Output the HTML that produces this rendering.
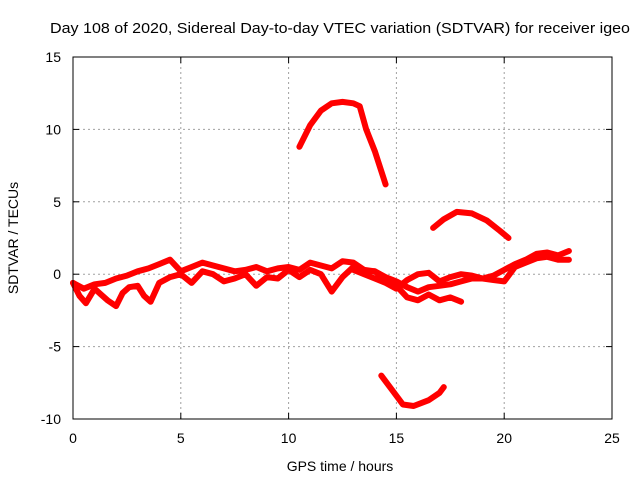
<!DOCTYPE html>
<html><head><meta charset="utf-8"><style>
html,body{margin:0;padding:0;background:#fff;}
svg{display:block;font-family:"Liberation Sans",sans-serif;}
</style></head><body>
<svg id="chart" width="640" height="480">
<text x="340" y="33" font-size="15" text-anchor="middle" textLength="580" lengthAdjust="spacingAndGlyphs">Day 108 of 2020, Sidereal Day-to-day VTEC variation (SDTVAR) for receiver igeo</text>
<g id="grid"></g>
<g id="series"></g>
<rect x="73" y="57" width="539" height="362" fill="none" stroke="#000" stroke-width="1"/>
<g id="ticks"></g>
<text x="340" y="471" font-size="14" text-anchor="middle">GPS time / hours</text>
<text x="0" y="0" font-size="14" text-anchor="middle" transform="translate(18,238) rotate(-90)">SDTVAR / TECUs</text>
</svg>
<script>
const xTicks=[0,5,10,15,20,25];
const yTicks=[15,10,5,0,-5,-10];
const seriesLowX=[0,0.3,0.6,1,1.3,1.6,2,2.3,2.6,3,3.3,3.6,4,4.5,5,5.5,6,6.5,7,7.5,8,8.5,9,9.5,10,10.5,11,11.5,12,12.5,13,13.5,14,14.5,15,15.5,16,16.5,17,17.5,18];
const seriesLowY=[-0.6,-1.5,-2.0,-1.0,-1.4,-1.8,-2.2,-1.3,-0.9,-0.8,-1.5,-1.9,-0.6,-0.2,0,-0.6,0.2,0,-0.5,-0.3,0,-0.8,-0.2,-0.3,0.3,-0.2,0.3,0,-1.2,-0.2,0.5,0.2,0.2,-0.4,-0.8,-1.6,-1.8,-1.4,-1.8,-1.6,-1.9];
const seriesMidX=[0,0.5,1,1.5,2,2.5,3,3.5,4,4.5,5,5.5,6,6.5,7,7.5,8,8.5,9,9.5,10,10.5,11,11.5,12,12.5,13,13.5,14,14.5,15,15.5,16,16.5,17,17.5,18,18.5,19,19.5,20,20.5,21,21.5,22,22.5,23];
const seriesMidY=[-0.6,-1.0,-0.7,-0.6,-0.3,-0.1,0.2,0.4,0.7,1,0.2,0.5,0.8,0.6,0.4,0.2,0.3,0.5,0.2,0.4,0.5,0.3,0.8,0.6,0.4,0.9,0.8,0.3,0.2,-0.2,-0.5,-0.9,-1.2,-0.9,-0.8,-0.7,-0.5,-0.3,-0.3,-0.1,0.3,0.7,1,1.4,1.5,1.3,1.6];
const seriesLateX=[13,13.5,14,14.5,15,15.5,16,16.5,17,17.5,18,18.5,19,19.5,20,20.5,21,21.5,22,22.5,23];
const seriesLateY=[0.3,0,-0.3,-0.6,-1,-0.4,0,0.1,-0.5,-0.2,0,-0.1,-0.3,-0.4,-0.5,0.5,0.8,1.1,1.2,1.0,1.0];
const seriesArcX=[10.5,11,11.5,12,12.5,13,13.3,13.6,14,14.5];
const seriesArcY=[8.8,10.3,11.3,11.8,11.9,11.8,11.6,10,8.5,6.2];
const seriesHumpX=[16.7,17.2,17.8,18.5,19.2,19.8,20.2];
const seriesHumpY=[3.2,3.8,4.3,4.2,3.7,3,2.5];
const seriesDipX=[14.3,14.8,15.3,15.8,16.5,17,17.2];
const seriesDipY=[-7,-8,-9,-9.1,-8.7,-8.2,-7.8];
const NS="http://www.w3.org/2000/svg";
function sx(v){return 73+(v-0)/25*539;}
function sy(v){return 419-(v+10)/25*362;}
const grid=document.getElementById('grid'),ticks=document.getElementById('ticks'),ser=document.getElementById('series');
function mk(tag,attrs,parent){const e=document.createElementNS(NS,tag);for(const k in attrs)e.setAttribute(k,attrs[k]);parent.appendChild(e);return e;}
xTicks.forEach(t=>{
 const x=sx(t);
 if(t>0&&t<25){const g=mk('line',{x1:x,x2:x,y1:57,y2:419,stroke:'#a0a0a0','stroke-dasharray':'2,3'},grid);
 
 }
 mk('line',{x1:x,x2:x,y1:419,y2:413,stroke:'#000'},ticks);
 mk('line',{x1:x,x2:x,y1:57,y2:63,stroke:'#000'},ticks);
 const tx=mk('text',{x:x,y:443,'font-size':14,'text-anchor':'middle'},ticks);
 tx.textContent=t;
 
 
});
yTicks.forEach(t=>{
 const y=sy(t);
 if(t>-10&&t<15){const g=mk('line',{x1:73,x2:612,y1:y,y2:y,stroke:'#a0a0a0','stroke-dasharray':'2,3'},grid);
 
 }
 mk('line',{x1:73,x2:79,y1:y,y2:y,stroke:'#000'},ticks);
 mk('line',{x1:612,x2:606,y1:y,y2:y,stroke:'#000'},ticks);
 const tx=mk('text',{x:61,y:y+5,'font-size':14,'text-anchor':'end'},ticks);
 tx.textContent=t;
 
 
});
[[seriesLowX,seriesLowY,'series-low'],[seriesMidX,seriesMidY,'series-mid'],[seriesLateX,seriesLateY,'series-late'],[seriesArcX,seriesArcY,'series-arc'],[seriesHumpX,seriesHumpY,'series-hump'],[seriesDipX,seriesDipY,'series-dip']].forEach(([xs,ys,n])=>{
 const pts=xs.map((x,i)=>sx(x).toFixed(1)+','+sy(ys[i]).toFixed(1)).join(' ');
 const p=mk('polyline',{points:pts,fill:'none',stroke:'#ff0000','stroke-width':6,'stroke-linejoin':'round','stroke-linecap':'round'},ser);
 
 
});
</script>
</body></html>
